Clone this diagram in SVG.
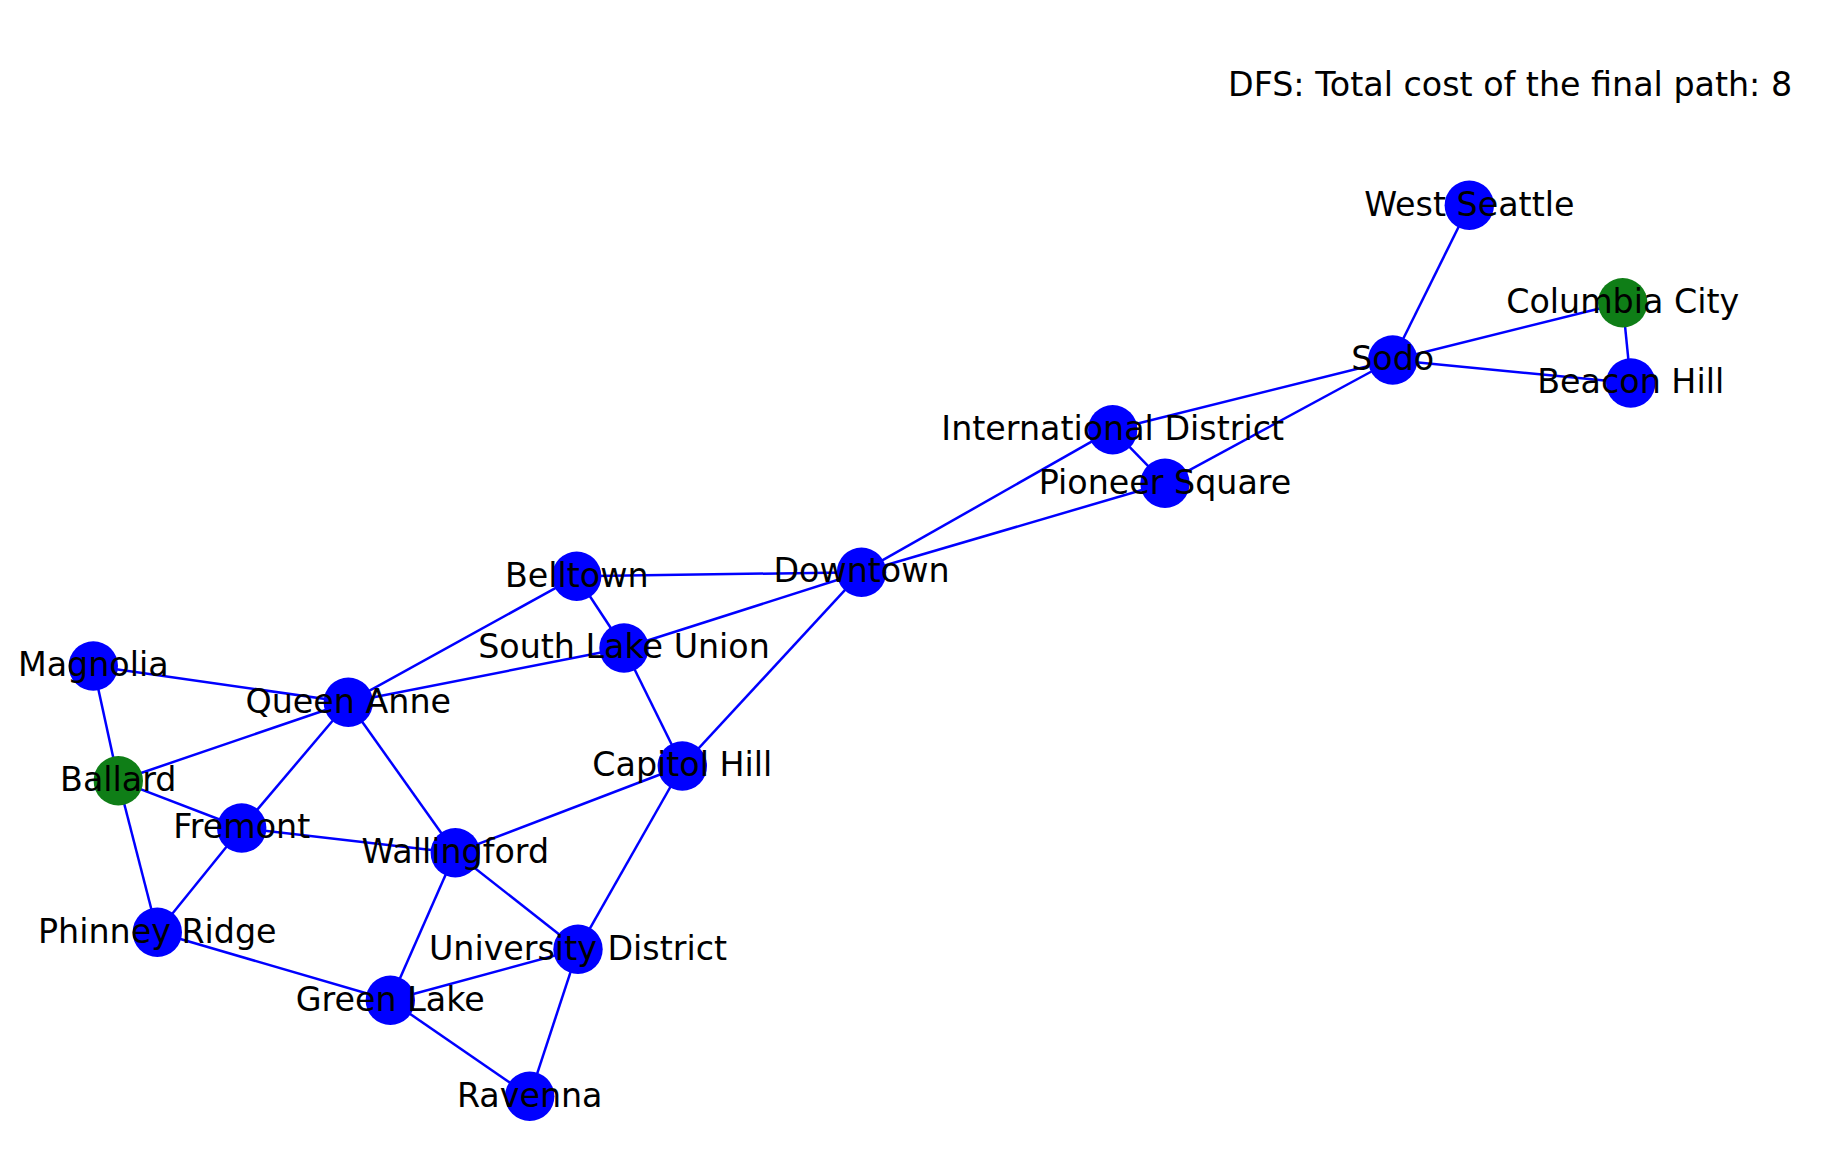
<svg xmlns="http://www.w3.org/2000/svg" width="1826" height="1168" viewBox="0 0 1826 1168">
<style>
.e{stroke:#0000ff;stroke-width:2.5;fill:none}
.n{fill:#0000ff}
.g{fill:#0f7e17}
text{font-family:"DejaVu Sans","Liberation Sans",sans-serif;font-size:33.3px;fill:#000}
.l{text-anchor:middle}
</style>
<rect width="1826" height="1168" fill="#ffffff"/>
<text id="title" x="1228" y="96">DFS: Total cost of the final path: 8</text>
<g id="edges">
<line class="e" x1="1469.3" y1="205.3" x2="1392.7" y2="360"/>
<line class="e" x1="1392.7" y1="360" x2="1622.7" y2="302.7"/>
<line class="e" x1="1392.7" y1="360" x2="1630.7" y2="383"/>
<line class="e" x1="1622.7" y1="302.7" x2="1630.7" y2="383"/>
<line class="e" x1="1392.7" y1="360" x2="1112.7" y2="429.7"/>
<line class="e" x1="1392.7" y1="360" x2="1165" y2="483.3"/>
<line class="e" x1="1112.7" y1="429.7" x2="1165" y2="483.3"/>
<line class="e" x1="1112.7" y1="429.7" x2="861.5" y2="572.2"/>
<line class="e" x1="1165" y1="483.3" x2="861.5" y2="572.2"/>
<line class="e" x1="861.5" y1="572.2" x2="576.7" y2="576.3"/>
<line class="e" x1="861.5" y1="572.2" x2="624" y2="648"/>
<line class="e" x1="861.5" y1="572.2" x2="682.3" y2="766"/>
<line class="e" x1="576.7" y1="576.3" x2="624" y2="648"/>
<line class="e" x1="576.7" y1="576.3" x2="348.3" y2="702.3"/>
<line class="e" x1="624" y1="648" x2="348.3" y2="702.3"/>
<line class="e" x1="624" y1="648" x2="682.3" y2="766"/>
<line class="e" x1="93.3" y1="666" x2="348.3" y2="702.3"/>
<line class="e" x1="93.3" y1="666" x2="118.3" y2="780.7"/>
<line class="e" x1="118.3" y1="780.7" x2="348.3" y2="702.3"/>
<line class="e" x1="118.3" y1="780.7" x2="241.7" y2="828"/>
<line class="e" x1="118.3" y1="780.7" x2="157.3" y2="932.3"/>
<line class="e" x1="348.3" y1="702.3" x2="241.7" y2="828"/>
<line class="e" x1="348.3" y1="702.3" x2="455.3" y2="852.7"/>
<line class="e" x1="241.7" y1="828" x2="455.3" y2="852.7"/>
<line class="e" x1="241.7" y1="828" x2="157.3" y2="932.3"/>
<line class="e" x1="682.3" y1="766" x2="455.3" y2="852.7"/>
<line class="e" x1="682.3" y1="766" x2="578" y2="949.3"/>
<line class="e" x1="455.3" y1="852.7" x2="578" y2="949.3"/>
<line class="e" x1="455.3" y1="852.7" x2="390.3" y2="1000.3"/>
<line class="e" x1="157.3" y1="932.3" x2="390.3" y2="1000.3"/>
<line class="e" x1="390.3" y1="1000.3" x2="578" y2="949.3"/>
<line class="e" x1="390.3" y1="1000.3" x2="529.7" y2="1096.3"/>
<line class="e" x1="578" y1="949.3" x2="529.7" y2="1096.3"/>
</g>
<g id="west-seattle"><circle class="n" cx="1469.3" cy="205.3" r="24.7"/><text class="l" x="1469.3" y="215.5">West Seattle</text></g>
<g id="columbia-city"><circle class="g" cx="1622.7" cy="302.7" r="24.7"/><text class="l" x="1622.7" y="312.9">Columbia City</text></g>
<g id="sodo"><circle class="n" cx="1392.7" cy="360" r="24.7"/><text class="l" x="1392.7" y="370.2">Sodo</text></g>
<g id="beacon-hill"><circle class="n" cx="1630.7" cy="383" r="24.7"/><text class="l" x="1630.7" y="393.2">Beacon Hill</text></g>
<g id="international-district"><circle class="n" cx="1112.7" cy="429.7" r="24.7"/><text class="l" x="1112.7" y="439.9">International District</text></g>
<g id="pioneer-square"><circle class="n" cx="1165" cy="483.3" r="24.7"/><text class="l" x="1165" y="493.5">Pioneer Square</text></g>
<g id="downtown"><circle class="n" cx="861.5" cy="572.2" r="24.7"/><text class="l" x="861.5" y="582.4">Downtown</text></g>
<g id="belltown"><circle class="n" cx="576.7" cy="576.3" r="24.7"/><text class="l" x="576.7" y="586.5">Belltown</text></g>
<g id="south-lake-union"><circle class="n" cx="624" cy="648" r="24.7"/><text class="l" x="624" y="658.2">South Lake Union</text></g>
<g id="magnolia"><circle class="n" cx="93.3" cy="666" r="24.7"/><text class="l" x="93.3" y="676.2">Magnolia</text></g>
<g id="queen-anne"><circle class="n" cx="348.3" cy="702.3" r="24.7"/><text class="l" x="348.3" y="712.5">Queen Anne</text></g>
<g id="capitol-hill"><circle class="n" cx="682.3" cy="766" r="24.7"/><text class="l" x="682.3" y="776.2">Capitol Hill</text></g>
<g id="ballard"><circle class="g" cx="118.3" cy="780.7" r="24.7"/><text class="l" x="118.3" y="790.9">Ballard</text></g>
<g id="fremont"><circle class="n" cx="241.7" cy="828" r="24.7"/><text class="l" x="241.7" y="838.2">Fremont</text></g>
<g id="wallingford"><circle class="n" cx="455.3" cy="852.7" r="24.7"/><text class="l" x="455.3" y="862.9">Wallingford</text></g>
<g id="phinney-ridge"><circle class="n" cx="157.3" cy="932.3" r="24.7"/><text class="l" x="157.3" y="942.5">Phinney Ridge</text></g>
<g id="university-district"><circle class="n" cx="578" cy="949.3" r="24.7"/><text class="l" x="578" y="959.5">University District</text></g>
<g id="green-lake"><circle class="n" cx="390.3" cy="1000.3" r="24.7"/><text class="l" x="390.3" y="1010.5">Green Lake</text></g>
<g id="ravenna"><circle class="n" cx="529.7" cy="1096.3" r="24.7"/><text class="l" x="529.7" y="1106.5">Ravenna</text></g>
</svg>
